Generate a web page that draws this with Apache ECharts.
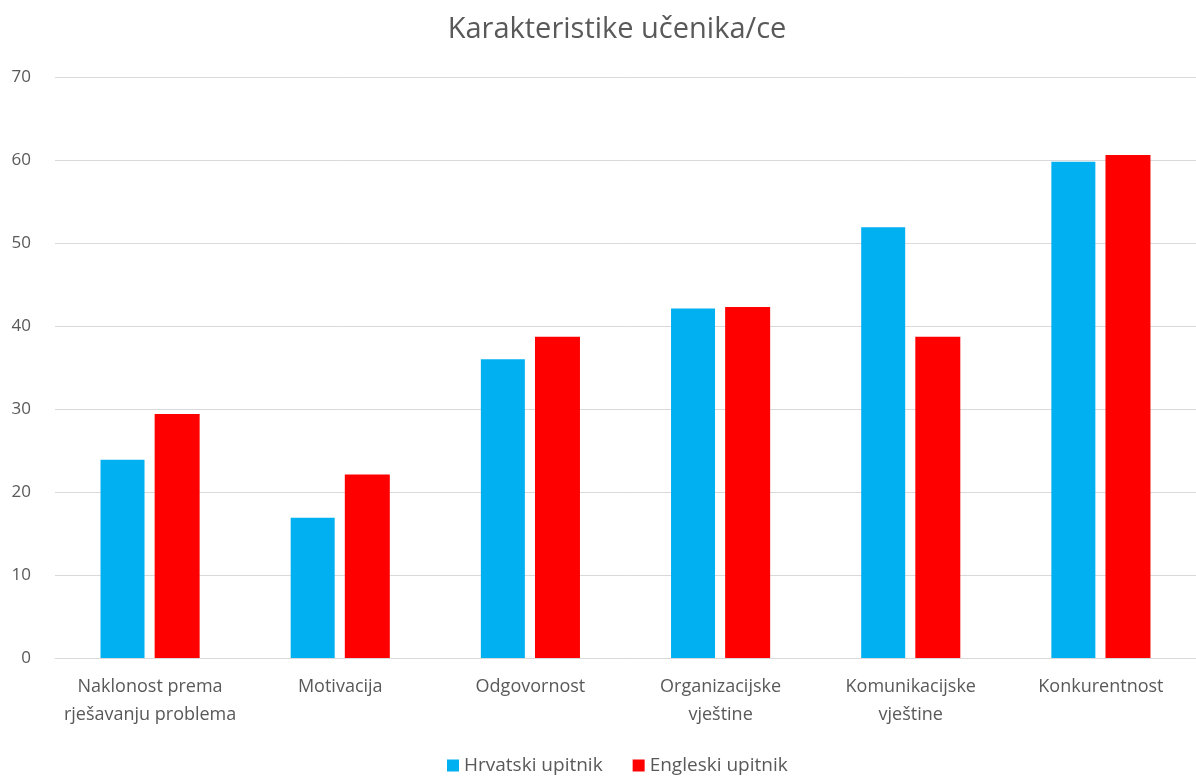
<!DOCTYPE html>
<html>
<head>
<meta charset="utf-8">
<script src="https://cdn.jsdelivr.net/npm/echarts@6/dist/echarts.min.js"></script>
<style>
  html, body { margin: 0; padding: 0; background: #fff; }
  #chart { width: 1196px; height: 776px; }
</style>
</head>
<body>
<div id="chart"></div>
<script>
const categories = [
  'Naklonost prema\nrješavanju problema',
  'Motivacija',
  'Odgovornost',
  'Organizacijske\nvještine',
  'Komunikacijske\nvještine',
  'Konkurentnost'
];
const hrvatski = [23.9, 16.9, 36.0, 42.1, 51.9, 59.8];
const engleski = [29.4, 22.1, 38.7, 42.3, 38.7, 60.6];

const font = '"Open Sans", "Liberation Sans", sans-serif';
const textColor = '#595959';

const chart = echarts.init(document.getElementById('chart'));
chart.setOption({
  backgroundColor: '#fff',
  animation: false,
  textStyle: { fontFamily: font },
  title: {
    text: 'Karakteristike učenika/ce',
    left: 612,
    textAlign: 'center',
    top: 10,
    textStyle: { fontFamily: font, fontSize: 29, fontWeight: 'normal', color: textColor }
  },
  legend: {
    bottom: -4,
    left: 442,
    itemWidth: 12,
    itemHeight: 12,
    itemGap: 30,
    icon: 'rect',
    textStyle: { fontFamily: font, fontSize: 19, color: textColor }
  },
  grid: { left: 55, right: -6, top: 77, bottom: 118, containLabel: false },
  xAxis: {
    type: 'category',
    data: categories,
    axisLine: { lineStyle: { color: '#d9d9d9', width: 1 } },
    axisTick: { show: false },
    axisLabel: {
      interval: 0,
      margin: 15,
      fontFamily: font,
      fontSize: 18,
      lineHeight: 28,
      color: textColor
    }
  },
  yAxis: {
    type: 'value',
    min: 0,
    max: 70,
    interval: 10,
    axisLine: { show: false },
    axisTick: { show: false },
    axisLabel: { margin: 24, fontFamily: font, fontSize: 17, color: textColor },
    splitLine: { lineStyle: { color: '#d9d9d9', width: 1 } }
  },
  series: [
    {
      name: 'Hrvatski upitnik',
      type: 'bar',
      data: hrvatski,
      barWidth: 44,
      barGap: '23%',
      itemStyle: { color: '#00b0f0' }
    },
    {
      name: 'Engleski upitnik',
      type: 'bar',
      data: engleski,
      barWidth: 45,
      barGap: '23%',
      itemStyle: { color: '#ff0000' }
    }
  ]
});
</script>
</body>
</html>
